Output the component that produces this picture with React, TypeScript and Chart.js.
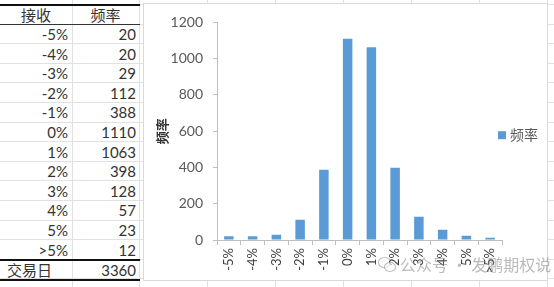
import React, { useEffect, useRef } from "react";
import { Chart, registerables } from "chart.js";

Chart.register(...registerables);

// ---- data ----
const categories = ["-5%", "-4%", "-3%", "-2%", "-1%", "0%", "1%", "2%", "3%", "4%", "5%", ">5%"];
const frequencies = [20, 20, 29, 112, 388, 1110, 1063, 398, 128, 57, 23, 12];
const seriesName = "频率";
const headerLabels = ["接收", "频率"];
const totalLabel = "交易日";
const totalValue = 3360;
const yMin = 0;
const yMax = 1200;
const yStep = 200;
const watermark = "公众号 · 发鹏期权说";

// ---- style ----
const barColor = "#5B9BD5";
const axisColor = "#BFBFBF";
const numFont = "Lato, 'Noto Sans CJK SC', sans-serif";
const cjkFont = "'Noto Sans CJK SC', Lato, sans-serif";
const ROW_H = 19.6;
const TABLE_TOP = 4;
const HEADER_H = 20;
const sheetCols = [72, 139, 207, 275, 343, 411, 479, 547];

const sideLegend = {
  id: "sideLegend",
  afterDraw(chart: any) {
    const { ctx, chartArea } = chart;
    const cy = (chartArea.top + chartArea.bottom) / 2 + 4;
    const x = chartArea.right - 4;
    ctx.save();
    ctx.fillStyle = barColor;
    ctx.fillRect(x, cy - 4, 8, 8);
    ctx.fillStyle = "#595959";
    ctx.font = "14px " + cjkFont;
    ctx.textBaseline = "middle";
    ctx.textAlign = "left";
    ctx.fillText(seriesName, x + 12, cy - 1);
    ctx.restore();
  },
};

function ChartBox() {
  const ref = useRef<HTMLCanvasElement | null>(null);
  useEffect(() => {
    if (!ref.current) return;
    const chart = new Chart(ref.current, {
      type: "bar",
      data: {
        labels: categories,
        datasets: [
          {
            label: seriesName,
            data: frequencies,
            backgroundColor: barColor,
            borderWidth: 0,
            categoryPercentage: 1,
            barPercentage: 0.4,
          },
        ],
      },
      options: {
        animation: false,
        responsive: true,
        maintainAspectRatio: false,
        devicePixelRatio: 1,
        layout: { padding: { top: 14, right: 45, bottom: 0, left: 0 } },
        plugins: {
          legend: { display: false },
          tooltip: { enabled: false },
        },
        scales: {
          x: {
            offset: true,
            grid: {
              offset: true,
              drawOnChartArea: false,
              drawTicks: true,
              tickLength: 5,
              color: axisColor,
            },
            border: { color: axisColor },
            ticks: {
              minRotation: 90,
              maxRotation: 90,
              autoSkip: false,
              padding: 3,
              color: "#404040",
              font: { family: numFont, size: 13 },
            },
            afterFit: (s: any) => {
              s.height = 40;
            },
          },
          y: {
            min: yMin,
            max: yMax,
            ticks: {
              stepSize: yStep,
              padding: 10,
              color: "#595959",
              font: { family: numFont, size: 14 },
              callback: (v: any) => String(v),
            },
            grid: {
              drawOnChartArea: false,
              drawTicks: true,
              tickLength: 4,
              color: axisColor,
            },
            border: { color: axisColor },
            title: {
              display: true,
              text: seriesName,
              color: "#333333",
              font: { family: cjkFont, size: 13, weight: "bold" },
              padding: { top: 10, bottom: 0 },
            },
            afterFit: (s: any) => {
              s.width = 73;
            },
          },
        },
      },
      plugins: [sideLegend],
    });
    return () => chart.destroy();
  }, []);
  return (
    <div
      style={{
        position: "absolute",
        left: 143,
        top: 3,
        width: 403,
        height: 276,
        border: "1px solid #D9D9D9",
        background: "#fff",
      }}
    >
      <canvas ref={ref} />
    </div>
  );
}

export default function App() {
  const rows = categories.map((c, i) => ({ label: c, value: frequencies[i] }));
  const totalTop = TABLE_TOP + HEADER_H + rows.length * ROW_H;
  const hLines: number[] = [];
  for (let y = TABLE_TOP; y < 300; y += ROW_H) hLines.push(y);
  const textStyle: React.CSSProperties = {
    position: "absolute",
    color: "#333",
    fontSize: 15,
    fontFamily: numFont,
    lineHeight: ROW_H + "px",
    whiteSpace: "nowrap",
  };
  return (
    <div
      style={{
        position: "absolute",
        left: 0,
        top: 0,
        width: 554,
        height: 287,
        overflow: "hidden",
        background: "#fff",
      }}
    >
      {/* sheet gridlines */}
      {hLines.map((y, i) => (
        <div key={"h" + i} style={{ position: "absolute", left: 0, top: y, width: 554, height: 1, background: "#E1E1E1" }} />
      ))}
      {sheetCols.map((x, i) => (
        <div key={"v" + i} style={{ position: "absolute", left: x, top: 0, width: 1, height: 287, background: "#E1E1E1" }} />
      ))}
      {/* table borders */}
      <div style={{ position: "absolute", left: 0, top: TABLE_TOP, width: 140, height: 2, background: "#111" }} />
      <div style={{ position: "absolute", left: 0, top: TABLE_TOP + HEADER_H, width: 140, height: 1, background: "#333" }} />
      <div style={{ position: "absolute", left: 0, top: totalTop, width: 140, height: 2, background: "#111" }} />
      <div style={{ position: "absolute", left: 0, top: totalTop + 20, width: 140, height: 2, background: "#111" }} />
      {/* header */}
      <div style={{ ...textStyle, left: 0, width: 72, top: TABLE_TOP + 1, textAlign: "center", fontFamily: cjkFont, lineHeight: HEADER_H + "px" }}>
        {headerLabels[0]}
      </div>
      <div style={{ ...textStyle, left: 72, width: 67, top: TABLE_TOP + 1, textAlign: "center", fontFamily: cjkFont, lineHeight: HEADER_H + "px" }}>
        {headerLabels[1]}
      </div>
      {rows.map((r, i) => {
        const top = TABLE_TOP + HEADER_H + i * ROW_H + 1;
        return (
          <React.Fragment key={"r" + i}>
            <div style={{ ...textStyle, left: 0, width: 68, top, textAlign: "right" }}>{r.label}</div>
            <div style={{ ...textStyle, left: 72, width: 64, top, textAlign: "right" }}>{r.value}</div>
          </React.Fragment>
        );
      })}
      <div style={{ ...textStyle, left: 7, top: totalTop + 1, fontFamily: cjkFont, lineHeight: "20px" }}>{totalLabel}</div>
      <div style={{ ...textStyle, left: 72, width: 64, top: totalTop + 1, textAlign: "right", lineHeight: "20px" }}>{totalValue}</div>
      <ChartBox />
      {/* watermark */}
      <div
        style={{
          position: "absolute",
          left: 378,
          top: 254,
          display: "flex",
          alignItems: "center",
          gap: 4,
          color: "rgba(130,130,130,0.55)",
          fontFamily: cjkFont,
          fontSize: 16,
          lineHeight: "20px",
          whiteSpace: "nowrap",
        }}
      >
        <span style={{ position: "relative", width: 18, height: 16, display: "inline-block" }}>
          <span style={{ position: "absolute", left: 0, top: 1, width: 11, height: 9, borderRadius: "50%", border: "1.5px solid rgba(130,130,130,0.55)" }} />
          <span style={{ position: "absolute", left: 6, top: 6, width: 10, height: 8, borderRadius: "50%", border: "1.5px solid rgba(130,130,130,0.55)", background: "rgba(255,255,255,0.6)" }} />
        </span>
        <span>{watermark}</span>
      </div>
    </div>
  );
}
